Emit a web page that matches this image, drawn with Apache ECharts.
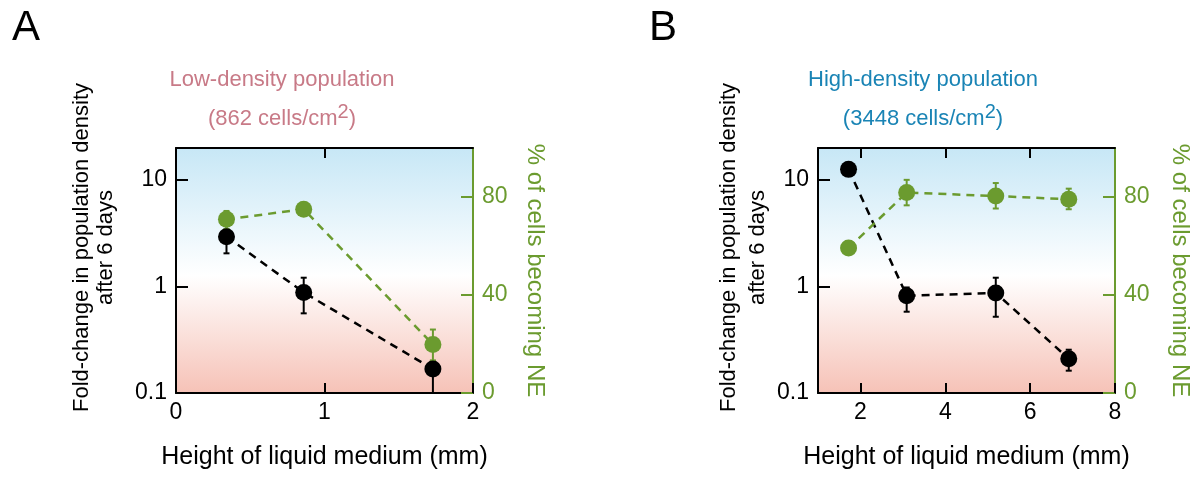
<!DOCTYPE html>
<html>
<head>
<meta charset="utf-8">
<script src="https://cdn.jsdelivr.net/npm/echarts@6/dist/echarts.min.js"></script>
<style>
  html, body { margin: 0; padding: 0; background: #fff; }
  #chart { width: 1199px; height: 479px; }
</style>
</head>
<body>
<div id="chart"></div>
<script>
// ---------- data ----------
// Panel A: low-density population
const heightA = [0.34, 0.86, 1.73];
const foldA = [2.94, 0.88, 0.168];
const foldA_lo = [2.05, 0.56, 0.1];
const foldA_hi = [3.7, 1.21, 0.2];
const neA = [70.9, 75.0, 19.8];
const neA_lo = [67.0, 73.5, 13.3];
const neA_hi = [74.3, 76.5, 25.9];

// Panel B: high-density population
const heightB = [1.72, 3.09, 5.19, 6.91];
const foldB = [12.6, 0.82, 0.87, 0.21];
const foldB_lo = [11.6, 0.58, 0.52, 0.162];
const foldB_hi = [13.6, 0.98, 1.21, 0.255];
const neB = [59.2, 81.8, 80.4, 79.1];
const neB_lo = [57.8, 76.6, 75.3, 75.0];
const neB_hi = [60.6, 87.0, 85.7, 83.4];

// ticks
const xTicksA = [0, 1, 2];
const xTicksB = [2, 4, 6, 8];
const foldTicks = [0.1, 1, 10];
const neTicks = [0, 40, 80];

// ---------- style ----------
const FONT = 'Liberation Sans, Arial, Helvetica, sans-serif';
const GREEN = '#6b9b2f';
const BLACK = '#000000';
const bg = {
  type: 'linear', x: 0, y: 0, x2: 0, y2: 1,
  colorStops: [
    { offset: 0, color: '#c7e7f6' },
    { offset: 0.52, color: '#ffffff' },
    { offset: 1, color: '#f6c2b7' }
  ]
};

function pairs(xs, ys) { return xs.map((x, i) => [x, ys[i]]); }
function triples(xs, lo, hi) { return xs.map((x, i) => [x, lo[i], hi[i]]); }

function errSeries(xi, yi, data, color) {
  return {
    type: 'custom', xAxisIndex: xi, yAxisIndex: yi, data: data,
    encode: { x: 0, y: [1, 2] },
    renderItem: function (params, api) {
      const x = api.value(0);
      const p1 = api.coord([x, api.value(1)]);
      const p2 = api.coord([x, api.value(2)]);
      const st = { stroke: color, lineWidth: 2 };
      const cw = 3;
      return {
        type: 'group', children: [
          { type: 'line', shape: { x1: p1[0], y1: p1[1], x2: p2[0], y2: p2[1] }, style: st },
          { type: 'line', shape: { x1: p1[0] - cw, y1: p1[1], x2: p1[0] + cw, y2: p1[1] }, style: st },
          { type: 'line', shape: { x1: p2[0] - cw, y1: p2[1], x2: p2[0] + cw, y2: p2[1] }, style: st }
        ]
      };
    },
    z: 3
  };
}

function lineSeries(xi, yi, data, color) {
  return {
    type: 'line', xAxisIndex: xi, yAxisIndex: yi, data: data,
    symbol: 'circle', symbolSize: 17,
    itemStyle: { color: color },
    lineStyle: { color: color, width: 2.5, type: [8, 6] },
    z: 4
  };
}

function xAxisBottom(grid, min, max, ticks) {
  return {
    type: 'value', gridIndex: grid, min: min, max: max, position: 'bottom',
    axisLine: { show: true, onZero: false, lineStyle: { color: BLACK, width: 2 } },
    axisTick: { show: true, inside: true, length: 10, lineStyle: { color: BLACK, width: 2 }, customValues: ticks },
    axisLabel: { show: true, customValues: ticks, fontSize: 23, color: BLACK, margin: 8, fontFamily: FONT },
    splitLine: { show: false },
    name: 'Height of liquid medium (mm)', nameLocation: 'middle', nameGap: 52,
    nameTextStyle: { fontSize: 25, color: BLACK, fontFamily: FONT }
  };
}
function xAxisTop(grid, min, max, ticks) {
  return {
    type: 'value', gridIndex: grid, min: min, max: max, position: 'top',
    axisLine: { show: true, onZero: false, lineStyle: { color: BLACK, width: 2 } },
    axisTick: { show: true, inside: true, length: 10, lineStyle: { color: BLACK, width: 2 }, customValues: ticks },
    axisLabel: { show: false },
    splitLine: { show: false }
  };
}
function yAxisLeft(grid, gap, lh) {
  return {
    type: 'log', logBase: 10, gridIndex: grid, min: 0.1, max: 20, position: 'left',
    axisLine: { show: true, onZero: false, lineStyle: { color: BLACK, width: 2 } },
    axisTick: { show: true, inside: true, length: 12, lineStyle: { color: BLACK, width: 2 }, customValues: foldTicks },
    axisLabel: { show: true, customValues: foldTicks, fontSize: 23, color: BLACK, margin: 9, fontFamily: FONT,
      formatter: function (v) { return String(+Number(v).toPrecision(3)); } },
    splitLine: { show: false },
    name: 'Fold-change in population density\nafter 6 days', nameLocation: 'middle', nameGap: gap, nameRotate: 90,
    nameTextStyle: { fontSize: 22, lineHeight: lh, color: BLACK, fontFamily: FONT, padding: [0, 0, 0, 46] }
  };
}
function yAxisRight(grid, gap) {
  return {
    type: 'value', gridIndex: grid, min: 0, max: 100, position: 'right',
    axisLine: { show: true, onZero: false, lineStyle: { color: GREEN, width: 2 } },
    axisTick: { show: true, inside: true, length: 12, lineStyle: { color: GREEN, width: 2 }, customValues: neTicks },
    axisLabel: { show: true, customValues: neTicks, fontSize: 23, color: GREEN, margin: 9, fontFamily: FONT },
    splitLine: { show: false },
    name: '% of cells becoming NE', nameLocation: 'middle', nameGap: gap, nameRotate: -90,
    nameTextStyle: { fontSize: 24, color: GREEN, fontFamily: FONT }
  };
}

const chart = echarts.init(document.getElementById('chart'), null, { renderer: 'canvas' });
chart.setOption({
  animation: false,
  backgroundColor: '#ffffff',
  textStyle: { fontFamily: FONT },
  grid: [
    { left: 176, top: 148, width: 297, height: 245, show: true, backgroundColor: bg, borderWidth: 0, containLabel: false },
    { left: 818, top: 148, width: 297, height: 245, show: true, backgroundColor: bg, borderWidth: 0, containLabel: false }
  ],
  xAxis: [
    xAxisBottom(0, 0, 2, xTicksA),
    xAxisTop(0, 0, 2, [1]),
    xAxisBottom(1, 1, 8, xTicksB),
    xAxisTop(1, 1, 8, [2, 4, 6])
  ],
  yAxis: [
    yAxisLeft(0, 58, 24),
    yAxisRight(0, 50),
    yAxisLeft(1, 46, 29),
    yAxisRight(1, 53)
  ],
  graphic: [
    { type: 'text', style: { x: 12, y: 28, text: 'A', fontSize: 42, fill: BLACK, font: '42px ' + FONT, verticalAlign: 'middle' } },
    { type: 'text', style: { x: 649, y: 28, text: 'B', fontSize: 42, fill: BLACK, font: '42px ' + FONT, verticalAlign: 'middle' } },
    { type: 'text', style: { x: 282, y: 80, text: 'Low-density population', font: '22px ' + FONT, fill: '#c87a87', align: 'center', verticalAlign: 'middle' } },
    { type: 'text', style: { x: 282, y: 119, text: '{a|(862 cells/cm}{s|2}{a|)}', align: 'center', verticalAlign: 'middle',
      rich: { a: { fontSize: 22, lineHeight: 34, fill: '#c87a87', fontFamily: FONT }, s: { fontSize: 20, verticalAlign: 'top', fill: '#c87a87', fontFamily: FONT } } } },
    { type: 'text', style: { x: 923, y: 80, text: 'High-density population', font: '22px ' + FONT, fill: '#1a84b5', align: 'center', verticalAlign: 'middle' } },
    { type: 'text', style: { x: 923, y: 119, text: '{a|(3448 cells/cm}{s|2}{a|)}', align: 'center', verticalAlign: 'middle',
      rich: { a: { fontSize: 22, lineHeight: 34, fill: '#1a84b5', fontFamily: FONT }, s: { fontSize: 20, verticalAlign: 'top', fill: '#1a84b5', fontFamily: FONT } } } }
  ],
  series: [
    errSeries(0, 0, triples(heightA, foldA_lo, foldA_hi), BLACK),
    lineSeries(0, 0, pairs(heightA, foldA), BLACK),
    errSeries(0, 1, triples(heightA, neA_lo, neA_hi), GREEN),
    lineSeries(0, 1, pairs(heightA, neA), GREEN),
    errSeries(2, 2, triples(heightB, foldB_lo, foldB_hi), BLACK),
    lineSeries(2, 2, pairs(heightB, foldB), BLACK),
    errSeries(2, 3, triples(heightB, neB_lo, neB_hi), GREEN),
    lineSeries(2, 3, pairs(heightB, neB), GREEN)
  ]
});
</script>
</body>
</html>
